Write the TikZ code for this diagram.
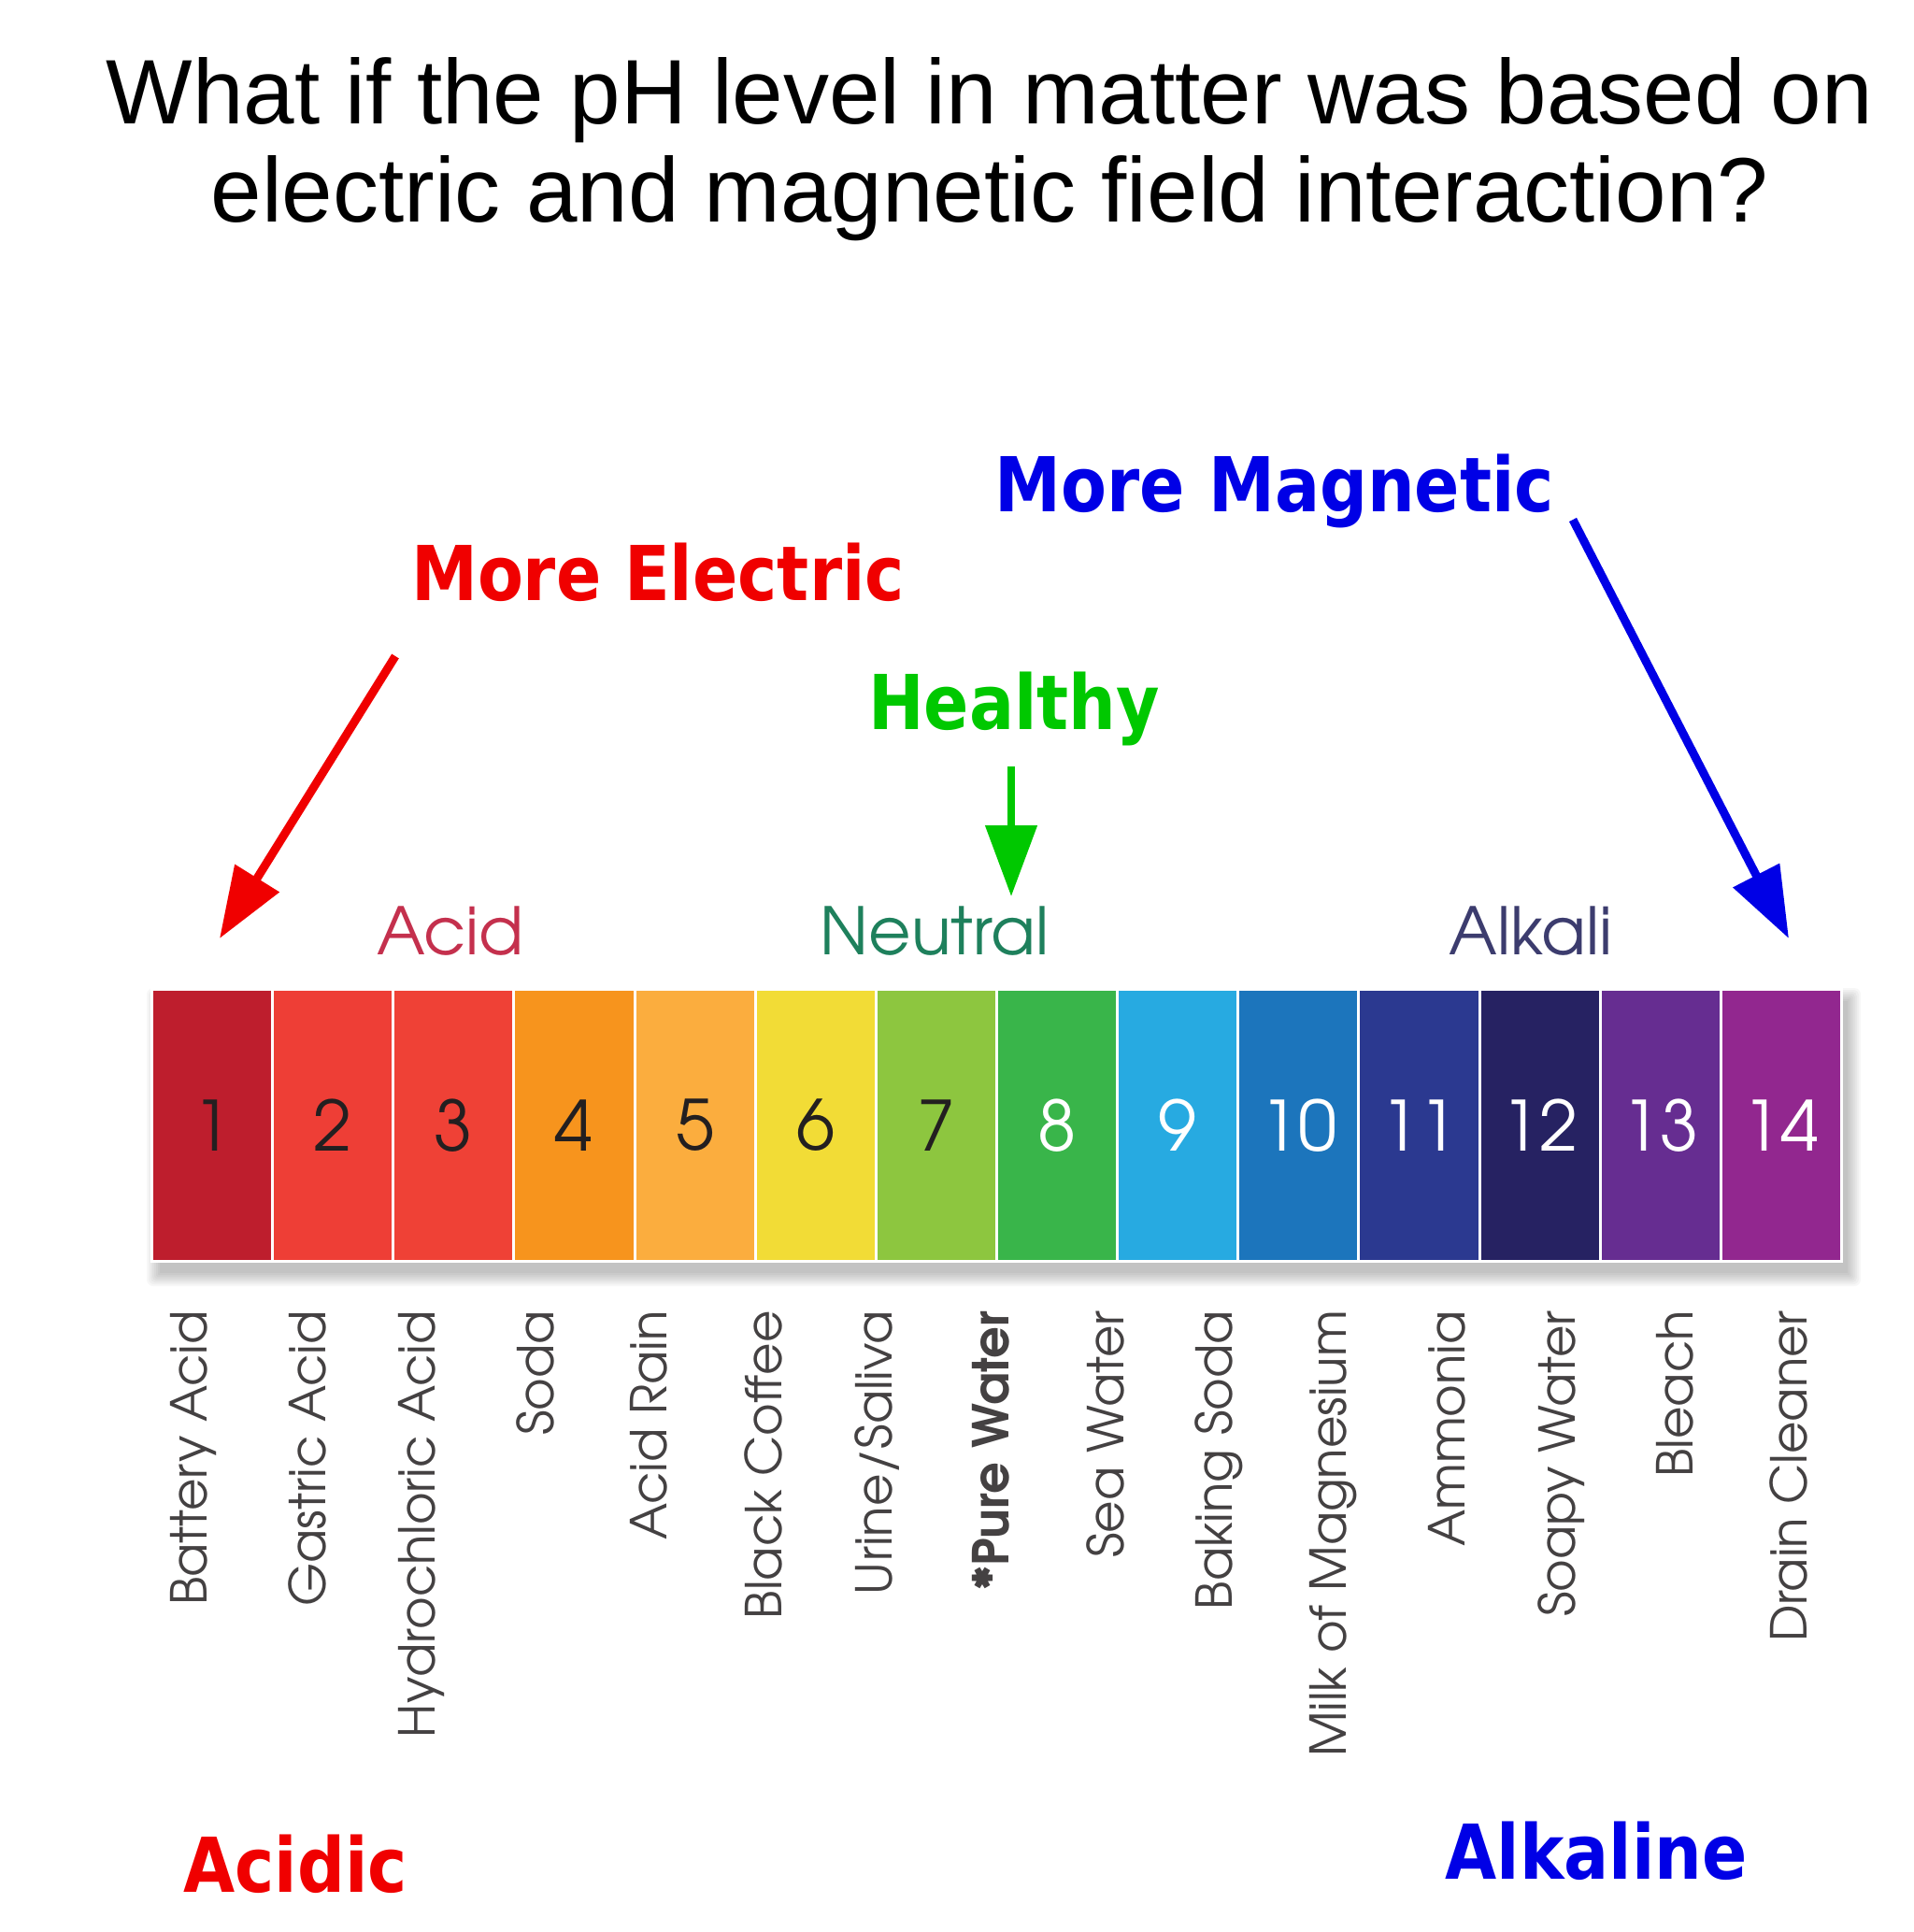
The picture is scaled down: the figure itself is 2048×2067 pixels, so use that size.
\documentclass[tikz,border=0pt]{standalone}
\usepackage{fontspec}
\usepackage{graphicx}
\usetikzlibrary{arrows.meta,positioning}
\setmainfont{Liberation Sans}
\newfontfamily\boldsans{DejaVu Sans}
\newfontfamily\gothic{TeX Gyre Adventor}

% scale colours
\definecolor{ph1}{RGB}{190,30,45}
\definecolor{ph2}{RGB}{238,62,54}
\definecolor{ph3}{RGB}{239,65,54}
\definecolor{ph4}{RGB}{247,148,29}
\definecolor{ph5}{RGB}{251,173,62}
\definecolor{ph6}{RGB}{242,220,54}
\definecolor{ph7}{RGB}{141,198,63}
\definecolor{ph8}{RGB}{57,181,74}
\definecolor{ph9}{RGB}{39,170,225}
\definecolor{ph10}{RGB}{28,117,188}
\definecolor{ph11}{RGB}{43,57,144}
\definecolor{ph12}{RGB}{38,34,98}
\definecolor{ph13}{RGB}{102,45,145}
\definecolor{ph14}{RGB}{146,39,143}
\definecolor{numdark}{RGB}{35,31,32}
\definecolor{acidcol}{RGB}{196,48,77}
\definecolor{neutcol}{RGB}{30,128,92}
\definecolor{alkcol}{RGB}{60,60,110}
\definecolor{elecred}{RGB}{240,0,0}
\definecolor{magblue}{RGB}{0,0,230}
\definecolor{healthgreen}{RGB}{0,200,0}

\tikzset{
  title/.style={anchor=base, inner sep=0pt, font=\fontsize{98}{105}\selectfont},
  callout/.style={anchor=base, inner sep=0pt, font=\boldsans\bfseries\fontsize{81}{90}\selectfont},
  group/.style={anchor=base, inner sep=0pt, font=\gothic\fontsize{70}{80}\selectfont},
  cell/.style={anchor=north west, minimum width=129.14pt, minimum height=291pt,
    inner sep=0pt, draw=white, line width=3pt, font=\gothic\fontsize{74}{80}\selectfont},
  item/.style={rotate=90, anchor=east, inner sep=0pt, text=numdark!85,
    font=\gothic\fontsize{53}{56}\selectfont},
  pointer/.style={line width=9pt, -{Triangle[length=76pt,width=54pt]}}
}

\begin{document}
\begin{tikzpicture}[x=1pt,y=-1pt]
\useasboundingbox[fill=white] (0,0) rectangle (2048,2067);

% heading
\node[title] (title1) at (1059,132) {What if the pH level in matter was based on};
\node[title] (title2) at (1059,237) {electric and magnetic field interaction?};

% soft shadow of the scale
\foreach \k in {0,...,7}
  \fill[black, opacity=0.03, rounded corners=\k pt]
    (171-2*\k,1071-2*\k) rectangle (1977+2*\k,1362+2*\k);

% the scale
\foreach \i/\tc in {1/numdark,2/numdark,3/numdark,4/numdark,5/numdark,6/numdark,7/numdark,
                    8/white,9/white,10/white,11/white,12/white,13/white,14/white}{
  \pgfmathsetmacro\cx{161+129.14*(\i-1)}
  \node[cell, fill=ph\i, text=\tc] (c\i) at (\cx,1057) {\i};
}

% group names
\node[group, text=acidcol] (acid) at (482,1021) {Acid};
\node[group, text=neutcol] (neutral) at (1000,1021) {Neutral};
\node[group, text=alkcol] (alkali) at (1638,1021) {Alkali};

% substances
\foreach \j/\txt in {0/Battery Acid,1/Gastric Acid,2/Hydrochloric Acid,3/Soda,4/Acid Rain,
                     5/Black Coffee,6/{Urine/Saliva},7/{\bfseries *Pure Water},8/Sea Water,
                     9/Baking Soda,10/Milk of Magnesium,11/Ammonia,12/Soapy Water,
                     13/Bleach,14/Drain Cleaner}
  \node[item] (s\j) at ({207+121.93*\j},1402) {\txt};

% call-outs
\node[callout, text=magblue] (magnetic) at (1364,547) {\scalebox{0.88}[1]{More Magnetic}};
\node[callout, text=elecred] (electric) at (704,642) {\scalebox{0.88}[1]{More Electric}};
\node[callout, text=healthgreen] (healthy) at (1085,780) {\scalebox{0.88}[1]{Healthy}};
\node[callout, text=elecred] (acidic) at (316,2024) {\scalebox{0.88}[1]{Acidic}};
\node[callout, text=magblue] (alkaline) at (1708,2010) {\scalebox{0.88}[1]{Alkaline}};

% arrows
\coordinate (elec from) at (423,702);
\coordinate (elec to) at (235,1004);
\coordinate (mag from) at (1683,556);
\coordinate (mag to) at (1914,1004);
\coordinate (heal from) at (1082,820);
\coordinate (heal to) at (1082,959);
\draw[pointer, elecred] (elec from) -- (elec to);
\draw[pointer, magblue] (mag from) -- (mag to);
\draw[pointer, healthgreen, line width=8pt] (heal from) -- (heal to);
\end{tikzpicture}
\end{document}
